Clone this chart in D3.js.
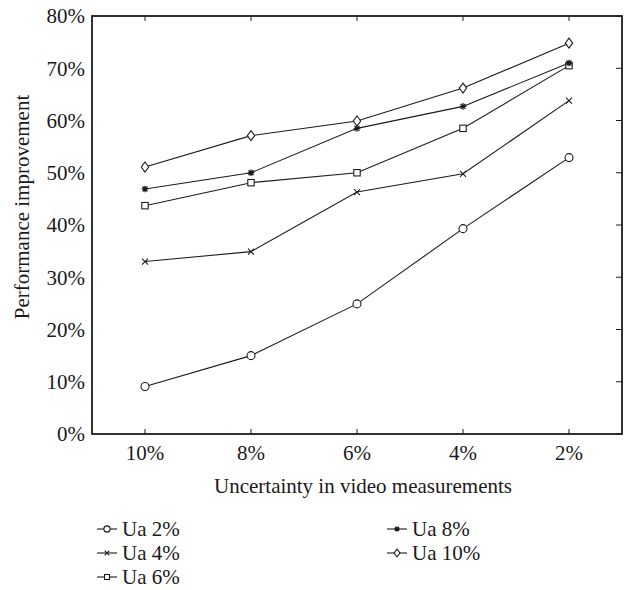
<!DOCTYPE html>
<html>
<head>
<meta charset="utf-8">
<script src="https://cdn.jsdelivr.net/npm/d3@7"></script>
<style>
  html, body { margin: 0; padding: 0; background: #fff; }
  svg { display: block; }
  text { font-family: "Liberation Serif", "DejaVu Serif", serif; fill: #1a1a1a; }
</style>
</head>
<body>
<svg id="chart" width="625" height="590"></svg>
<script>
// Uncertainty levels along the x axis
const categories = ["10%", "8%", "6%", "4%", "2%"];
// Y axis tick values (percent)
const yTicks = [0, 10, 20, 30, 40, 50, 60, 70, 80];

// Performance improvement (%) per series
const ua2  = [9.1, 15.0, 24.9, 39.3, 52.9];
const ua4  = [33.0, 34.9, 46.3, 49.8, 63.8];
const ua6  = [43.7, 48.1, 50.0, 58.5, 70.5];
const ua8  = [46.9, 50.0, 58.5, 62.7, 71.0];
const ua10 = [51.1, 57.1, 59.9, 66.2, 74.8];

const seriesNames = ["Ua 2%", "Ua 4%", "Ua 6%", "Ua 8%", "Ua 10%"];
const seriesValues = [ua2, ua4, ua6, ua8, ua10];
const seriesMarkers = ["circle", "cross", "square", "star", "diamond"];

const ink = "#1c1c1c";
const FS = 21;
const svg = d3.select("#chart");
const W = 625, H = 590;
const m = { left: 92, right: 3, top: 16, bottom: 156 };

const x = d3.scaleBand().domain(categories).range([m.left, W - m.right]).padding(0);
const xc = c => x(c) + x.bandwidth() / 2;
const y = d3.scaleLinear().domain([0, 80]).range([H - m.bottom, m.top]);

// Marker shapes, scalable for the legend
function drawMarker(g, type, cx, cy, k = 1) {
  const s = g.append("g").attr("transform", `translate(${cx},${cy}) scale(${k})`);
  const sw = 1.1 / k;
  if (type === "circle") {
    s.append("circle").attr("r", 4).attr("stroke", ink).attr("stroke-width", sw).attr("fill", "#fff");
  } else if (type === "square") {
    s.append("rect").attr("x", -3.2).attr("y", -3.2).attr("width", 6.4).attr("height", 6.4)
      .attr("stroke", ink).attr("stroke-width", sw).attr("fill", "#fff");
  } else if (type === "diamond") {
    s.append("path").attr("d", "M0,-5 L3.7,0 L0,5 L-3.7,0 Z")
      .attr("stroke", ink).attr("stroke-width", sw).attr("fill", "#fff");
  } else if (type === "cross") {
    s.append("path").attr("d", "M-3,-3 L3,3 M-3,3 L3,-3")
      .attr("stroke", ink).attr("stroke-width", sw).attr("fill", "none");
  } else if (type === "star") {
    s.append("path").attr("d", "M-3.3,0 L3.3,0 M0,-3.3 L0,3.3 M-2.5,-2.5 L2.5,2.5 M-2.5,2.5 L2.5,-2.5")
      .attr("stroke", ink).attr("stroke-width", 1.3 / k).attr("fill", "none");
    s.append("circle").attr("r", 1.7).attr("fill", ink);
  }
}

// Plot frame
const x0 = m.left, x1 = W - m.right, y0 = H - m.bottom, y1 = m.top;
svg.append("rect").attr("x", x0).attr("y", y1).attr("width", x1 - x0).attr("height", y0 - y1)
  .attr("fill", "none").attr("stroke", ink).attr("stroke-width", 1.8);

// Inward ticks: top & bottom at categories, right side at y values
const tickG = svg.append("g").attr("stroke", ink).attr("stroke-width", 1);
categories.forEach(c => {
  tickG.append("line").attr("x1", xc(c)).attr("x2", xc(c)).attr("y1", y0).attr("y2", y0 - 5);
  tickG.append("line").attr("x1", xc(c)).attr("x2", xc(c)).attr("y1", y1).attr("y2", y1 + 5);
});
yTicks.forEach(t => {
  tickG.append("line").attr("x1", x1).attr("x2", x1 - 6).attr("y1", y(t)).attr("y2", y(t));
});

// Y axis labels
svg.append("g").selectAll("text").data(yTicks).join("text")
  .attr("x", x0 - 7).attr("y", d => y(d)).attr("dy", "0.35em")
  .attr("text-anchor", "end").attr("font-size", FS)
  .text(d => d + "%");

// X axis labels
svg.append("g").selectAll("text").data(categories).join("text")
  .attr("x", d => xc(d)).attr("y", y0 + 19).attr("dy", "0.35em")
  .attr("text-anchor", "middle").attr("font-size", FS)
  .text(d => d);

// Axis titles
svg.append("text").attr("x", (x0 + x1) / 2 + 6).attr("y", 493)
  .attr("text-anchor", "middle").attr("font-size", FS)
  .text("Uncertainty in video measurements");
svg.append("text").attr("transform", `translate(29,207) rotate(-90)`)
  .attr("text-anchor", "middle").attr("font-size", FS)
  .text("Performance improvement");

// Series lines and markers
const line = d3.line().x((d, i) => xc(categories[i])).y(d => y(d));
const plotG = svg.append("g");
seriesValues.forEach(vals => {
  plotG.append("path").attr("d", line(vals)).attr("fill", "none")
    .attr("stroke", ink).attr("stroke-width", 1.1);
});
seriesValues.forEach((vals, k) => {
  vals.forEach((v, i) => drawMarker(plotG, seriesMarkers[k], xc(categories[i]), y(v)));
});

// Legend in two columns
const legendPos = [
  [97, 529], [97, 553], [97, 577], [387, 529], [387, 553]
];
seriesNames.forEach((name, k) => {
  const [lx, ly] = legendPos[k];
  const g = svg.append("g");
  g.append("line").attr("x1", lx).attr("x2", lx + 20).attr("y1", ly).attr("y2", ly)
    .attr("stroke", ink).attr("stroke-width", 1.1);
  drawMarker(g, seriesMarkers[k], lx + 10, ly, 0.78);
  g.append("text").attr("x", lx + 25).attr("y", ly).attr("dy", "0.35em")
    .attr("font-size", FS).text(name);
});
</script>
</body>
</html>
